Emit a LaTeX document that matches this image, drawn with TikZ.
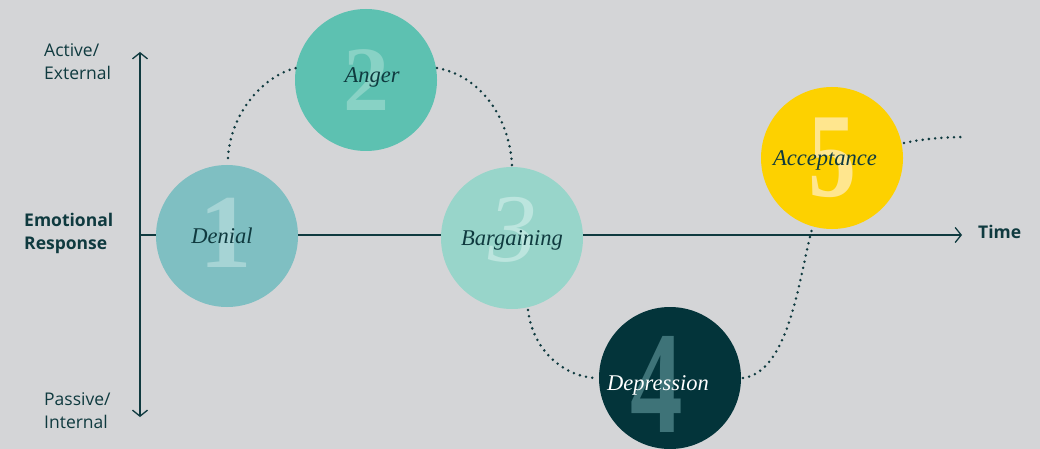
\documentclass[tikz,border=0pt]{standalone}
\usepackage{fontspec}
\setsansfont{Open Sans}
\newfontfamily\labfont{Liberation Serif}
\usetikzlibrary{arrows.meta}
\definecolor{bg}{HTML}{D4D5D7}
\definecolor{ink}{HTML}{0F3A3F}
\definecolor{cA}{HTML}{7FBFC2}
\definecolor{cB}{HTML}{5DC1B1}
\definecolor{cC}{HTML}{98D5CA}
\definecolor{cD}{HTML}{03343A}
\definecolor{cE}{HTML}{FDD100}
\definecolor{nA}{HTML}{A6D4D5}
\definecolor{nB}{HTML}{88D2C5}
\definecolor{nC}{HTML}{BCE5DE}
\definecolor{nD}{HTML}{3E7378}
\definecolor{nE}{HTML}{FFE68E}
\tikzset{
  stage/.style={circle, minimum size=142pt, inner sep=0pt, draw=none},
  digit/.style={inner sep=0pt, font=\labfont\bfseries\fontsize{#1}{#1}\selectfont},
  lbl/.style={inner sep=0pt, font=\labfont\fontsize{22.5}{22.5}\selectfont\itshape, text=ink},
  axis/.style={draw=ink, line width=1.3pt},
  axlbl/.style={inner sep=0pt, font=\sffamily\fontsize{17.5}{23}\selectfont, text=ink, align=left, anchor=west},
  axbold/.style={axlbl, font=\sffamily\bfseries\fontsize{17.5}{23}\selectfont},
  dots/.style={draw=ink, line width=2.8pt, line cap=round, dash pattern=on 0pt off 6.3pt}
}
\begin{document}
\begin{tikzpicture}[x=1pt,y=-1pt]
\fill[bg] (0,0) rectangle (1040,449);
\useasboundingbox (0,0) rectangle (1040,449);
% axes
\coordinate (vt) at (140,52);
\coordinate (vb) at (140,417);
\coordinate (ho) at (140,235);
\coordinate (hr) at (962,235);
\draw[axis, {Straight Barb[length=6pt,width=15pt]}-{Straight Barb[length=6pt,width=15pt]}] (vt) -- (vb);
\draw[axis, -{Straight Barb[length=6pt,width=15pt]}] (ho) -- (hr);
\node[axlbl] (act) at (44,62) {Active/\\External};
\node[axbold] (emo) at (24,233) {Emotional\\Response};
\node[axlbl] (pas) at (44,411) {Passive/\\Internal};
\node[axbold] (time) at (978,232) {Time};
% circles
\node[stage, fill=cA] (c1) at (227,236) {};
\node[stage, fill=cB] (c2) at (366,80) {};
\node[stage, fill=cC] (c3) at (512,238) {};
\node[stage, fill=cD] (c4) at (670,378) {};
\node[stage, fill=cE] (c5) at (832,158) {};
% big digits
\node[digit=105, text=nA] (n1) at (226,233) {1};
\node[digit=92, text=nB] (n2) at (366,80) {2};
\node[digit=97, text=nC, font=\labfont\itshape\fontsize{97}{97}\selectfont] (n3) at (513,230) {3};
\node[digit=146, text=nD] (n4) at (657,384) {\scalebox{0.72}[1]{4}};
\node[digit=120, text=nE] (n5) at (832,158) {\scalebox{0.8}[1]{5}};
% labels
\node[lbl] (l1) at (222,236) {Denial};
\node[lbl] (l2) at (372,77) {Anger};
\node[lbl] (l3) at (512,240) {Bargaining};
\node[lbl, text=white] (l4) at (658,385) {Depression};
\node[lbl] (l5) at (825,160) {Acceptance};
% dotted path
\coordinate (p1) at (228,158);
\coordinate (p2) at (296,68);
\coordinate (p3) at (437,68);
\coordinate (p4) at (512,166);
\coordinate (p5) at (528,310);
\coordinate (p6) at (598,378);
\coordinate (p7) at (743,378);
\coordinate (p8) at (812,229);
\coordinate (p9) at (904,143);
\coordinate (p10) at (965,137);
\draw[dots] (p1) .. controls (230,115) and (262,76) .. (p2);
\draw[dots] (p3) .. controls (482,76) and (510,120) .. (p4);
\draw[dots] (p5) .. controls (533,352) and (566,378) .. (p6);
\draw[dots] (p7) .. controls (790,372) and (800,272) .. (p8);
\draw[dots] (p9) .. controls (922,139) and (945,137) .. (p10);
\end{tikzpicture}
\end{document}
